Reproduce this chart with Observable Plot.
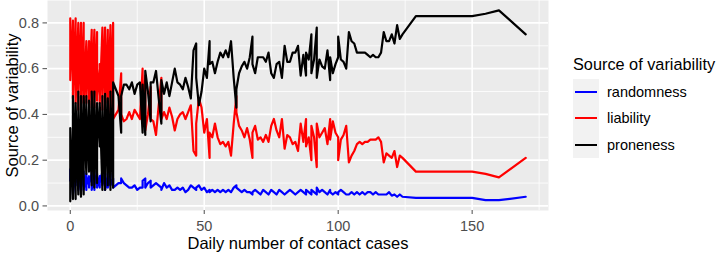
<!DOCTYPE html>
<html><head><meta charset="utf-8">
<script src="https://cdn.jsdelivr.net/npm/d3@7"></script>
<script src="https://cdn.jsdelivr.net/npm/@observablehq/plot@0.6"></script>
<style>
body{margin:0;background:#fff;font-family:"Liberation Sans",Arial,sans-serif;}
#wrap{position:relative;width:718px;height:255px;overflow:hidden;}
#chart{position:absolute;left:0;top:0;}
.lg-title{position:absolute;left:573px;top:55px;font-size:16.3px;color:#000;white-space:nowrap;line-height:18px;}
.lg-key{position:absolute;left:573px;width:26px;height:26.5px;background:#F2F2F2;}
.lg-line{position:absolute;left:2px;right:2px;top:12px;height:2.2px;}
.lg-label{position:absolute;left:607px;font-size:14.5px;color:#000;line-height:16px;white-space:nowrap;}
</style></head><body>
<div id="wrap"><div id="chart"></div></div>
<script>
// ---- data ----
const contactCases = [
 0,0,0,0,1,1,1,1,2,2,2,2,3,3,3,3,4,4,4,4,5,5,5,5,6,6,6,6,7,7,7,7,8,8,8,8,9,9,9,9,
 10,10,10,10,11,11,11,11,12,12,12,12,13,13,13,13,14,14,14,14,15,15,15,15,16,16,
 17,18,19,19,20,21,22,23,24,25,26,27,27,28,28,29,30,30,31,32,33,34,34,35,36,37,38,39,40,
 41,42,43,44,45,46,47,47,48,49,50,51,52,52,53,54,55,56,57,58,59,60,61,62,62,63,64,65,66,67,
 68,68,69,70,71,72,73,74,75,76,77,78,79,80,81,82,83,84,85,86,87,88,88,89,90,90,91,92,92,93,
 94,95,96,97,97,98,99,100,100,101,102,103,104,105,106,107,108,109,110,111,112,113,114,115,
 116,117,118,119,120,121,122,123,124,129,150,155,160,170
];
const randomness = [
 .16,.12,.16,.11, .16,.06,.15,.05, .15,.09,.16,.10, .15,.08,.16,.07, .16,.06,.15,.08,
 .15,.12,.15,.07, .14,.07,.13,.09, .13,.08,.12,.10, .14,.09,.15,.07, .15,.07,.14,.09,
 .14,.09,.13,.08, .13,.08,.12,.10, .15,.10,.14,.09, .14,.08,.15,.07, .13,.09,.14,.08,
 .14,.10,.14,.09, .12,.08,
 .09,.10,.10,.12,.10,.09,.08,.08,.09,.07,.08,.08,.11,.12,.08,.10,.11,.08,.09,.10,.09,.08,.07,.10,.08,.09,.07,.07,.08,
 .07,.08,.06,.07,.09,.08,.07,.08,.09,.07,.08,.06,.07,.06,.07,.06,.07,.06,.07,.06,.07,.06,.08,.09,.08,.07,.06,.07,.06,.06,
 .05,.06,.07,.06,.05,.07,.06,.05,.07,.06,.05,.07,.06,.05,.06,.07,.06,.05,.06,.07,.06,.05,.07,.06,.05,.07,.06,.05,.08,.06,
 .07,.06,.05,.07,.06,.05,.06,.05,.06,.07,.06,.05,.05,.06,.05,.06,.05,.06,.05,.06,.06,.05,.06,.05,
 .05,.05,.05,.06,.045,.05,.04,.05,.04,.035,.035,.025,.025,.04
];
const liability = [
 .82,.58,.80,.55, .81,.50,.79,.47, .82,.46,.80,.45, .80,.42,.79,.48, .80,.48,.78,.44,
 .80,.50,.79,.45, .72,.45,.70,.47, .72,.48,.68,.44, .77,.44,.76,.43, .77,.43,.76,.45,
 .76,.46,.75,.48, .60,.47,.62,.45, .78,.42,.77,.46, .78,.45,.78,.44, .76,.48,.77,.45,
 .78,.40,.79,.42, .80,.38,
 .40,.42,.58,.40,.37,.38,.41,.38,.42,.40,.38,.60,.36,.57,.33,.40,.52,.38,.37,.31,.44,.56,.38,.41,.38,.43,.39,.33,.38,
 .40,.41,.38,.41,.44,.24,.22,.36,.47,.43,.32,.38,.21,.32,.30,.36,.30,.27,.28,.26,.28,.22,.36,.48,.41,.35,.33,.30,.34,.29,
 .21,.32,.35,.29,.30,.28,.31,.28,.35,.38,.33,.30,.38,.25,.31,.30,.27,.28,.24,.36,.28,.38,.26,.30,.20,.35,.30,.17,.36,.30,
 .32,.34,.27,.38,.29,.37,.32,.30,.20,.29,.31,.35,.19,.22,.24,.27,.28,.27,.28,.28,.29,.29,.29,.30,
 .28,.19,.23,.22,.21,.24,.17,.22,.21,.15,.15,.14,.125,.21
];
const proneness = [
 .02,.30,.04,.34, .03,.44,.06,.48, .03,.45,.04,.45, .05,.50,.05,.45, .04,.46,.07,.48,
 .05,.38,.06,.48, .14,.48,.17,.44, .15,.44,.20,.46, .09,.47,.09,.50, .08,.50,.10,.46,
 .10,.45,.12,.44, .27,.45,.26,.45, .07,.48,.09,.45, .08,.47,.07,.49, .11,.43,.09,.47,
 .08,.50,.07,.49, .08,.54,
 .51,.48,.32,.48,.53,.53,.51,.54,.49,.53,.54,.32,.53,.31,.59,.50,.37,.54,.54,.59,.47,.36,.55,.49,.54,.48,.54,.60,.54,
 .53,.51,.56,.52,.47,.68,.71,.56,.44,.50,.60,.56,.72,.62,.63,.58,.63,.67,.65,.68,.65,.72,.56,.43,.51,.58,.61,.63,.60,.65,
 .74,.62,.58,.65,.65,.65,.63,.67,.58,.56,.62,.63,.56,.70,.63,.63,.67,.67,.70,.57,.66,.57,.67,.64,.75,.58,.64,.78,.56,.64,
 .61,.60,.68,.55,.65,.58,.62,.65,.74,.64,.63,.60,.76,.72,.71,.67,.67,.67,.67,.66,.65,.66,.65,.65,
 .67,.76,.72,.72,.75,.71,.79,.73,.75,.83,.83,.84,.855,.75
];
const sources = ["randomness", "liability", "proneness"];
const sourceColors = ["#0000FF", "#FF0000", "#000000"];
const xTicks = [0, 50, 100, 150];
const xMinorTicks = [25, 75, 125, 175];
const yTicks = [0, 0.2, 0.4, 0.6, 0.8];
const yMinorTicks = [0.1, 0.3, 0.5, 0.7];
const xTitle = "Daily number of contact cases";
const yTitle = "Source of variability";
const legendTitle = "Source of variability";

// ---- build long table ----
const seriesValues = [randomness, liability, proneness];
const rows = [];
sources.forEach((s, k) => {
  contactCases.forEach((x, i) => rows.push({x, value: seriesValues[k][i], source: s}));
});

const chart = Plot.plot({
  width: 718,
  height: 255,
  marginLeft: 47,
  marginRight: 170,
  marginTop: 0,
  marginBottom: 45,
  style: {fontFamily: "'Liberation Sans', Arial, sans-serif", background: "transparent"},
  x: {domain: [-8.5, 178.5]},
  y: {domain: [-0.02, 0.898]},
  color: {domain: sources, range: sourceColors},
  marks: [
    Plot.frame({fill: "#EBEBEB", stroke: "none"}),
    Plot.gridX(xMinorTicks, {stroke: "#FFFFFF", strokeOpacity: 1, strokeWidth: 0.8}),
    Plot.gridY(yMinorTicks, {stroke: "#FFFFFF", strokeOpacity: 1, strokeWidth: 0.8}),
    Plot.gridX(xTicks, {stroke: "#FFFFFF", strokeOpacity: 1, strokeWidth: 1.6}),
    Plot.gridY(yTicks, {stroke: "#FFFFFF", strokeOpacity: 1, strokeWidth: 1.6}),
    ...sources.map(s => Plot.line(rows.filter(d => d.source === s), {
      x: "x", y: "value", stroke: "source", strokeWidth: 2.2, strokeLinejoin: "round"
    })),
    Plot.axisX({ticks: xTicks, tickSize: 4, tickPadding: 6.5, fontSize: 14.5, color: "#4D4D4D", label: null, tickFormat: d => String(d)}),
    Plot.axisY({ticks: yTicks, tickSize: 4.5, tickPadding: 4, fontSize: 14.5, color: "#4D4D4D", label: null, tickFormat: d => d.toFixed(1)}),
    Plot.text([xTitle], {frameAnchor: "bottom", dy: 33, fontSize: 16.5, fill: "#000", lineAnchor: "middle", textAnchor: "middle"}),
    Plot.text([yTitle], {frameAnchor: "left", dx: -35, rotate: -90, fontSize: 16.5, fill: "#000", lineAnchor: "middle", textAnchor: "middle"})
  ]
});
const wrap = document.getElementById("wrap");
document.getElementById("chart").appendChild(chart);

// ---- legend ----
const t = document.createElement("div");
t.className = "lg-title"; t.textContent = legendTitle; wrap.appendChild(t);
const keyTops = [78.5, 105, 131.5];
sources.forEach((s, k) => {
  const key = document.createElement("div");
  key.className = "lg-key"; key.style.top = keyTops[k] + "px";
  const ln = document.createElement("div");
  ln.className = "lg-line"; ln.style.background = sourceColors[k];
  key.appendChild(ln); wrap.appendChild(key);
  const lab = document.createElement("div");
  lab.className = "lg-label"; lab.style.top = (keyTops[k] + 5) + "px"; lab.textContent = s;
  wrap.appendChild(lab);
});
</script>
</body></html>
